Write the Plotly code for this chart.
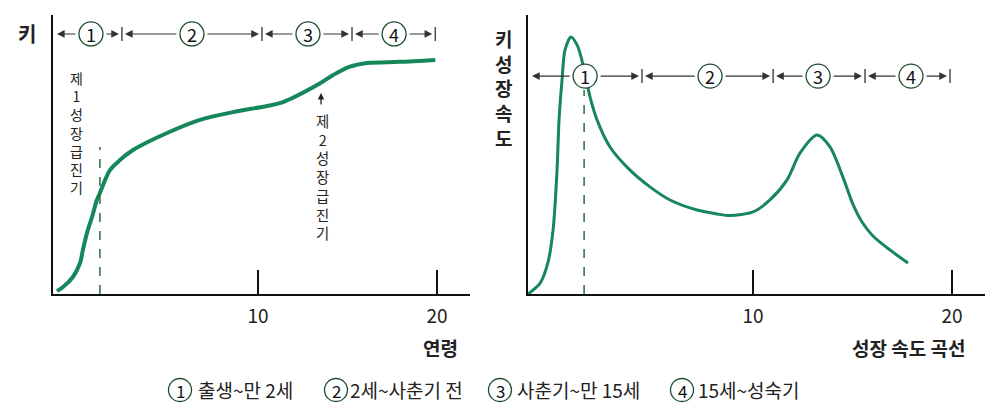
import plotly.graph_objects as go

# 키 곡선 (left) : age vs relative height
height_age = [-1.23, -0.89, -0.34, 0.06, 0.22, 0.45, 0.73, 1.0, 1.17, 1.73, 2.29, 3.02, 4.92,
              6.76, 8.6, 10.5, 11.4, 13.3, 14.2, 15.1, 16.1, 17.9, 19.9]
height_val = [1.1, 2.5, 6.1, 11.1, 15.8, 21.9, 27.6, 33.7, 36.2, 44.4, 48.0, 51.6, 57.7,
              62.4, 65.2, 67.4, 68.8, 74.9, 78.5, 81.4, 82.8, 83.2, 83.9]

# 성장 속도 곡선 (right)
speed_age = [-1.31, -0.7, -0.3, -0.05, 0.15, 0.25, 0.4, 0.55, 0.85, 1.16, 1.36, 1.81, 2.16,
             2.81, 3.82, 4.82, 5.83, 7.19, 8.19, 8.84, 10.0, 10.85, 11.71, 12.36, 13.22,
             13.87, 14.52, 15.03, 15.48, 16.03, 16.88, 17.79]
speed_val = [0, 3.9, 11.5, 22.9, 44.4, 62.4, 76.7, 87.5, 92.1, 89.2, 84.9, 70.6, 62.4,
             52.7, 44.4, 38.4, 33.7, 30.1, 28.7, 28.1, 29.4, 33.7, 40.9, 50.5, 57.0,
             52.7, 41.9, 32.0, 25.8, 20.8, 15.8, 11.1]

# 구간 경계 / 번호 위치 (age)
left_bounds = [-1.23, 2.4, 10.22, 15.25, 19.9]
left_marks = [0.67, 6.31, 12.79, 17.6]
right_bounds = [-1.11, 4.42, 11.01, 15.63, 19.9]
right_marks = [1.56, 7.84, 13.27, 17.94]
stage_nums = ["1", "2", "3", "4"]
left_row, right_row = 93.2, 78.1

left_dash_age, left_dash_top = 1.17, 52.7
right_dash_age, right_dash_top = 1.51, 73.1

legend_items = ["출생~만 2세", "2세~사춘기 전", "사춘기~만 15세", "15세~성숙기"]
tick_vals = [10, 20]

GREEN = "#16875a"
DARK = "#222222"
FONT = "Noto Sans CJK KR"
OFF = 8  # page body margin
W, H = 1000 - OFF, 420 - OFF


def fx(px):
    return (px - OFF) / W


def fy(py):
    return 1 - (py - OFF) / H


left_range = [-1.45, 21.84]
right_range = [-1.31, 21.66]
left_dom = [fx(53), fx(470)]
right_dom = [fx(528), fx(985)]
ydom = [fy(294), fy(15)]

fig = go.Figure()
fig.add_trace(go.Scatter(x=height_age, y=height_val, mode="lines", line_shape="spline",
                         line=dict(color=GREEN, width=4, smoothing=0.9), xaxis="x", yaxis="y"))
fig.add_trace(go.Scatter(x=speed_age, y=speed_val, mode="lines", line_shape="spline",
                         line=dict(color=GREEN, width=3, smoothing=0.8), xaxis="x2", yaxis="y2"))

ax_common = dict(showline=True, linecolor="#111", linewidth=2, showgrid=False, zeroline=False,
                 tickvals=tick_vals, ticks="inside", ticklen=24, tickwidth=1.5, tickcolor="#111",
                 ticklabelstandoff=4, tickfont=dict(family=FONT, size=19, color=DARK))
yax_common = dict(showline=True, linecolor="#111", linewidth=2, showgrid=False, zeroline=False,
                  showticklabels=False, ticks="", range=[0, 100])

shapes = []
annotations = []


def ppu(rng, dom):
    return (dom[1] - dom[0]) * W / (rng[1] - rng[0])


def stage_arrows(xr, yr, bounds, marks, row, rng, dom):
    k = ppu(rng, dom)
    for i, m in enumerate(marks):
        lo = bounds[i] + (3 / k if i > 0 else 0)
        hi = bounds[i + 1] - 3 / k
        gap = 14 / k
        for tip, tail in [(lo, m - gap), (hi, m + gap)]:
            annotations.append(dict(x=tip, y=row, ax=tail, ay=row, xref=xr, yref=yr,
                                    axref=xr, ayref=yr, text="", showarrow=True,
                                    arrowhead=2, arrowsize=1.4, arrowwidth=1.1,
                                    arrowcolor="#333"))
        shapes.append(dict(type="circle", xref=xr, yref=yr, xsizemode="pixel",
                           ysizemode="pixel", xanchor=m, yanchor=row, x0=-12, x1=12,
                           y0=-12, y1=12, line=dict(color="#1f4d2e", width=1.3),
                           fillcolor="white"))
        annotations.append(dict(x=m, y=row, xref=xr, yref=yr, text=stage_nums[i],
                                showarrow=False, xanchor="center", yanchor="middle",
                                font=dict(family=FONT, size=18, color="#111")))
    for b in bounds[1:]:
        shapes.append(dict(type="line", xref=xr, yref=yr, ysizemode="pixel", yanchor=row,
                           x0=b, x1=b, y0=-7, y1=7, line=dict(color="#333", width=1.3)))


stage_arrows("x", "y", left_bounds, left_marks, left_row, left_range, left_dom)
stage_arrows("x2", "y2", right_bounds, right_marks, right_row, right_range, right_dom)

shapes.append(dict(type="line", xref="x", yref="y", x0=left_dash_age, x1=left_dash_age,
                   y0=0, y1=left_dash_top, line=dict(color="#2e6b3f", width=1.5, dash="dash")))
shapes.append(dict(type="line", xref="x2", yref="y2", x0=right_dash_age, x1=right_dash_age,
                   y0=0, y1=right_dash_top, line=dict(color="#2e6b3f", width=1.5, dash="dash")))


def px_txt(x, y, text, size, bold=False, anchor="center"):
    annotations.append(dict(x=fx(x), y=fy(y), xref="paper", yref="paper", text=text,
                            showarrow=False, xanchor=anchor, yanchor="middle",
                            font=dict(family=FONT, size=size, color=DARK,
                                      weight=700 if bold else 400)))


# vertical labels (one char per line)
px_txt(76, 133, "<br>".join("제1성장급진기"), 14)
px_txt(322, 176, "<br>".join("제2성장급진기"), 14.4)
annotations.append(dict(x=fx(321), y=fy(93), xref="paper", yref="paper", ax=0, ay=13,
                        text="", showarrow=True, arrowhead=2, arrowsize=1, arrowwidth=1.3,
                        arrowcolor="#222"))

px_txt(27, 34, "키", 20, bold=True)
px_txt(503, 88, "<br>".join("키성장속도"), 19, bold=True)

px_txt(440, 347, "연령", 19, bold=True)
px_txt(909, 347, "성장 속도 곡선", 19, bold=True)

# bottom legend
circle_x = [180, 336, 500, 682]
text_x = [196, 348, 515, 696]
for i, item in enumerate(legend_items):
    shapes.append(dict(type="circle", xref="paper", yref="paper", xsizemode="pixel",
                       ysizemode="pixel", xanchor=fx(circle_x[i]), yanchor=fy(390),
                       x0=-11.5, x1=11.5, y0=-11.5, y1=11.5,
                       line=dict(color="#1f4d2e", width=1.3)))
    annotations.append(dict(x=fx(circle_x[i]), y=fy(390), xref="paper", yref="paper",
                            text=stage_nums[i], showarrow=False, xanchor="center",
                            yanchor="middle", font=dict(family=FONT, size=17, color="#111")))
    px_txt(text_x[i], 389, item, 19, anchor="left")

fig.update_layout(
    width=W, height=H, autosize=False, showlegend=False,
    margin=dict(l=0, r=0, t=0, b=0),
    paper_bgcolor="white", plot_bgcolor="white",
    xaxis=dict(domain=left_dom, range=left_range, anchor="y", **ax_common),
    yaxis=dict(domain=ydom, anchor="x", **yax_common),
    xaxis2=dict(domain=right_dom, range=right_range, anchor="y2", **ax_common),
    yaxis2=dict(domain=ydom, anchor="x2", **yax_common),
    shapes=shapes, annotations=annotations,
)

fig.write_html("out.html")
